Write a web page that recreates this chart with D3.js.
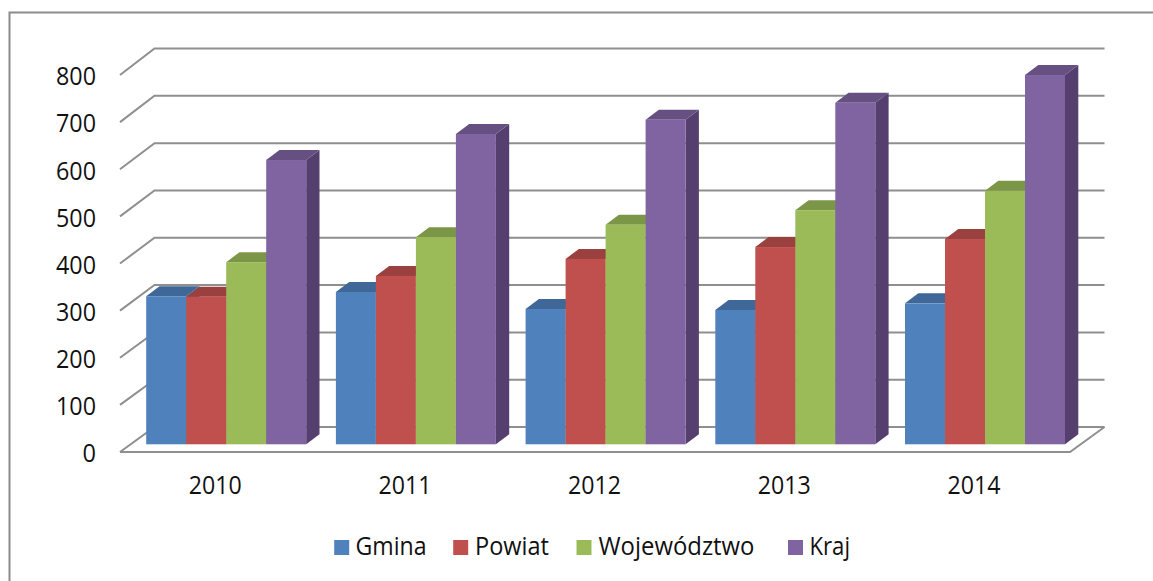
<!DOCTYPE html>
<html><head><meta charset="utf-8">
<script src="https://cdn.jsdelivr.net/npm/d3@7"></script>
<style>html,body{margin:0;padding:0;background:#fff}svg{display:block}text{font-family:"Open Sans",sans-serif;fill:#111}</style>
</head><body><div id="chart"></div>
<script>
const years = ["2010","2011","2012","2013","2014"];
const seriesNames = ["Gmina","Powiat","Województwo","Kraj"];
const gmina = [313,322,286,284,298];
const powiat = [312,356,392,417,434];
const wojewodztwo = [385,438,464,495,536];
const kraj = [601,656,686,722,781];
const yTicks = [0,100,200,300,400,500,600,700,800];
const front = ["#4f81bd","#c0504d","#9bbb59","#8064a2"];
const topC = ["#3f6797","#9a403e","#7c9647","#665082"];
const side = ["#3a5f8b","#8e3b39","#728a42","#553f6e"];
const seriesVals = [gmina,powiat,wojewodztwo,kraj];

const W=1153,H=581;
const svg=d3.select("#chart").append("svg").attr("width",W).attr("height",H);
svg.append("path").attr("d",`M9.5,${H+2}V12.5H${W+2}`).attr("fill","none").attr("stroke","#8c8c8c").attr("stroke-width",2);

const grey="#8f8f8f";
const yFront=d3.scaleLinear().domain([0,800]).range([452,75]);
const yBack=d3.scaleLinear().domain([0,800]).range([427,48.5]);
const yBar=d3.scaleLinear().domain([0,800]).range([444.3,65.9]);
const xFloor=d3.scaleLinear().domain([0,1]).range([120,1070]);
const backDx=34.5;
const x0=d3.scaleBand().domain(years).range([146.2,146.2+189.7*5]);
const x1=d3.scaleBand().domain(seriesNames).range([0,160]);
const depthX=13.3,depthY=10;

// walls
const g=svg.append("g");
g.selectAll("path.grid").data(yTicks).join("path").attr("class","grid")
 .attr("d",v=>`M${xFloor(0)},${yFront(v)}L${xFloor(0)+backDx},${yBack(v)}H${xFloor(1)+backDx}`)
 .attr("fill","none").attr("stroke",grey).attr("stroke-width",2);
g.append("path").attr("d",`M${xFloor(0)},${yFront(0)}H${xFloor(1)}L${xFloor(1)+backDx},${yBack(0)}`)
 .attr("fill","none").attr("stroke",grey).attr("stroke-width",2);

// bars
years.forEach((yr,i)=>{
  const bg=svg.append("g");
  seriesNames.forEach((s,j)=>{
    const x=x0(yr)+x1(s),w=x1.bandwidth(),t=yBar(seriesVals[j][i]),b=yBar(0);
    bg.append("path").attr("fill",side[j]).attr("d",`M${x+w},${t}l${depthX},${-depthY}V${b-depthY}L${x+w},${b}Z`);
    bg.append("path").attr("fill",topC[j]).attr("d",`M${x},${t}l${depthX},${-depthY}H${x+w+depthX}L${x+w},${t}Z`);
    bg.append("rect").attr("x",x).attr("y",t).attr("width",w).attr("height",b-t).attr("fill",front[j]);
  });
});

// axis labels
svg.selectAll("text.yl").data(yTicks).join("text").attr("class","yl")
 .attr("x",96).attr("y",v=>yFront(v)+1).attr("dy","0.36em").attr("text-anchor","end")
 .attr("font-size",26).attr("textLength",v=>v===0?13.5:40).attr("lengthAdjust","spacingAndGlyphs").text(d=>d);
svg.selectAll("text.xl").data(years).join("text").attr("class","xl")
 .attr("x",y=>x0(y)+69).attr("y",485).attr("dy","0.36em").attr("text-anchor","middle")
 .attr("font-size",25).attr("textLength",53).attr("lengthAdjust","spacingAndGlyphs").text(d=>d);

// legend
const legendX=[334.2,453.2,576.5,788];
const legendTextX=[355.5,475,598.5,809.5];
const legendLen=[71,74,156,40.5];
seriesNames.forEach((s,j)=>{
  svg.append("rect").attr("x",legendX[j]).attr("y",540).attr("width",15).attr("height",15).attr("fill",front[j]);
  svg.append("text").attr("x",legendTextX[j]).attr("y",545.5).attr("dy","0.36em").attr("font-size",25)
   .attr("textLength",legendLen[j]).attr("lengthAdjust","spacingAndGlyphs").text(s);
});
</script></body></html>
